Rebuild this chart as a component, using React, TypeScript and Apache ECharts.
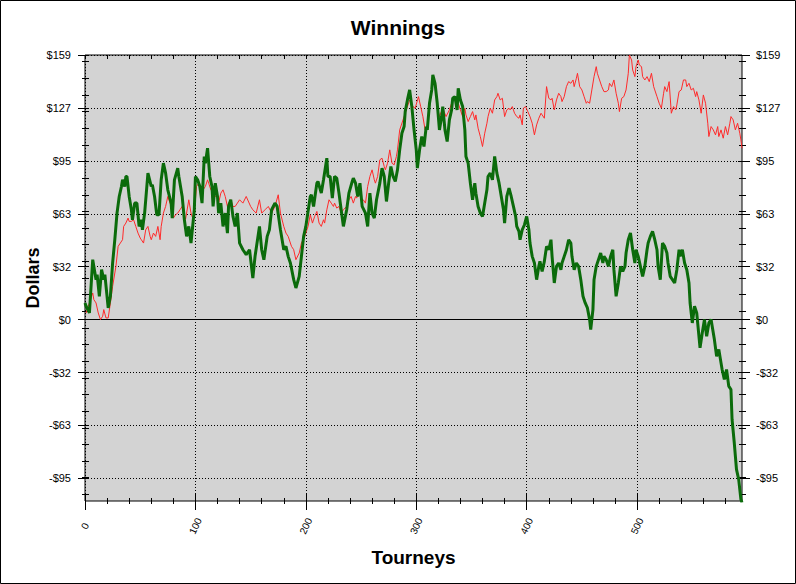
import { useEffect, useRef } from "react";
import * as echarts from "echarts";

// ---------- texts ----------
const chartTitle = "Winnings";
const xAxisName = "Tourneys";
const yAxisName = "Dollars";

// ---------- scales ----------
const xRange = [0, 595];
const xMajorStep = 100;
const xMinorStep = 20;
const yRange = [-109, 159];
const yMajorStep = 31.8;
const yMajorFirst = -95.4; // lowest labelled tick
const yMinorStep = 10;
const yMinorRange = [-105, 155];
const yTickLabels = ["-$95", "-$63", "-$32", "$0", "$32", "$63", "$95", "$127", "$159"];
const yTickLabelOffset = 3; // index of "$0"

// ---------- series values: [tourney, dollars] ----------
const redPoints: [number, number][] = [
  [1, 4], [4, 10], [7, 16], [8, 12], [10, 10], [12, 4], [14, 0], [16, 2], [17, 6], [19, 1], [21, 1], [23, 10],
  [25, 20], [27, 28], [28, 32], [30, 44], [32, 46], [34, 48], [35, 56], [37, 58], [39, 61], [40, 59], [42, 59],
  [44, 60], [46, 56], [48, 52], [50, 49], [51, 48], [53, 46], [55, 54], [57, 56], [59, 50], [60, 48], [62, 52],
  [64, 50], [66, 56], [68, 48], [69, 56], [71, 64], [73, 68], [75, 74], [77, 70], [79, 66], [80, 61], [82, 63],
  [84, 64], [86, 66], [88, 68], [91, 60], [92, 64], [94, 72], [96, 64], [98, 60], [100, 72], [101, 80], [103, 82],
  [105, 80], [107, 78], [109, 80], [111, 84], [112, 82], [114, 78], [116, 76], [118, 74], [120, 74], [121, 70],
  [123, 76], [125, 78], [127, 74], [129, 68], [130, 70], [132, 72], [134, 68], [136, 68], [138, 70], [140, 72],
  [143, 70], [146, 74], [150, 68], [152, 66], [155, 64], [158, 72], [160, 64], [163, 66], [166, 68], [169, 64],
  [172, 68], [175, 75], [177, 64], [180, 56], [182, 52], [184, 50], [187, 44], [189, 42], [191, 36], [194, 40],
  [196, 46], [199, 50], [201, 54], [202, 56], [204, 63], [206, 58], [208, 62], [210, 65], [212, 58], [214, 56],
  [216, 60], [217, 58], [219, 66], [221, 72], [223, 70], [225, 68], [226, 70], [228, 67], [230, 68], [232, 64],
  [234, 66], [237, 68], [239, 72], [241, 74], [243, 70], [245, 74], [246, 73], [248, 76], [251, 72], [252, 72],
  [254, 70], [256, 80], [258, 86], [260, 90], [262, 84], [263, 82], [265, 86], [267, 96], [269, 97], [271, 92],
  [272, 90], [274, 94], [276, 102], [278, 94], [280, 93], [282, 98], [283, 102], [285, 114], [288, 120],
  [291, 126], [294, 132], [297, 128], [299, 127], [302, 134], [304, 128], [306, 122], [308, 114], [310, 116],
  [312, 128], [314, 138], [316, 145], [318, 140], [319, 128], [321, 122], [324, 127], [327, 122], [330, 126],
  [332, 130], [334, 134], [336, 132], [338, 130], [340, 126], [342, 122], [344, 127], [345, 123], [347, 119],
  [349, 122], [351, 125], [353, 120], [354, 123], [356, 115], [358, 110], [360, 104], [362, 112], [364, 118],
  [365, 122], [367, 127], [369, 124], [371, 132], [373, 134], [374, 136], [376, 132], [378, 133], [380, 122],
  [382, 126], [384, 127], [385, 126], [387, 128], [389, 124], [391, 122], [393, 121], [394, 123], [396, 117],
  [397, 127], [399, 128], [401, 125], [403, 122], [405, 118], [407, 111], [409, 117], [411, 121], [413, 124],
  [414, 123], [416, 121], [418, 140], [420, 133], [422, 132], [423, 133], [425, 126], [427, 132], [429, 136],
  [431, 134], [432, 131], [434, 134], [436, 140], [438, 143], [440, 142], [442, 144], [443, 140], [445, 145],
  [446, 148], [448, 140], [450, 138], [452, 134], [454, 130], [455, 131], [457, 130], [459, 138], [461, 146],
  [463, 152], [464, 148], [466, 144], [468, 140], [470, 137], [472, 137], [474, 138], [475, 142], [477, 140],
  [479, 144], [481, 136], [483, 130], [484, 125], [486, 133], [488, 134], [490, 138], [492, 148], [493, 159],
  [495, 156], [496, 150], [498, 146], [499, 152], [501, 156], [502, 153], [504, 152], [505, 146], [507, 144],
  [509, 146], [511, 143], [513, 148], [515, 140], [516, 138], [518, 134], [520, 130], [522, 127], [524, 136],
  [525, 140], [527, 137], [529, 143], [531, 124], [533, 128], [535, 126], [536, 129], [538, 137], [540, 138],
  [542, 144], [544, 144], [545, 140], [547, 142], [549, 138], [551, 139], [553, 134], [554, 137], [556, 132],
  [558, 124], [560, 135], [562, 130], [564, 118], [565, 110], [567, 116], [569, 114], [571, 111], [573, 116],
  [574, 110], [576, 114], [578, 109], [580, 116], [582, 111], [584, 118], [585, 122], [587, 120], [589, 114],
  [591, 118], [593, 112], [594, 108], [595, 103],
];

const greenPoints: [number, number][] = [
  [0, 10], [1, 8], [4, 4], [7, 36], [10, 24], [11, 27], [13, 14], [15, 30], [17, 24], [18, 27], [21, 7], [23, 14],
  [25, 34], [27, 48], [29, 64], [31, 74], [33, 80], [34, 84], [36, 80], [37, 86], [38, 86], [40, 74], [42, 66],
  [43, 60], [45, 70], [47, 70], [49, 56], [51, 60], [52, 54], [54, 64], [57, 88], [60, 80], [61, 81], [63, 74],
  [65, 63], [67, 63], [69, 84], [71, 94], [73, 88], [75, 78], [78, 70], [79, 61], [81, 84], [84, 91], [85, 86],
  [88, 74], [90, 60], [92, 50], [94, 56], [96, 46], [99, 66], [100, 86], [102, 84], [104, 80], [106, 70],
  [108, 98], [109, 94], [111, 103], [113, 86], [115, 80], [116, 68], [118, 82], [120, 74], [121, 64], [123, 70],
  [125, 56], [127, 64], [129, 52], [130, 68], [132, 72], [134, 62], [136, 56], [138, 64], [140, 46], [143, 42],
  [146, 39], [149, 42], [152, 25], [154, 38], [158, 56], [160, 42], [162, 36], [165, 50], [167, 54], [169, 66],
  [172, 70], [174, 68], [177, 54], [180, 42], [182, 44], [184, 38], [186, 34], [189, 24], [191, 19], [194, 26],
  [196, 38], [198, 50], [200, 56], [204, 74], [205, 75], [207, 68], [210, 82], [211, 83], [214, 76], [216, 84],
  [219, 97], [220, 86], [222, 86], [224, 73], [226, 86], [228, 85], [230, 76], [232, 66], [234, 56], [237, 66],
  [239, 76], [242, 83], [243, 85], [245, 82], [247, 74], [249, 82], [251, 68], [254, 64], [256, 56], [258, 76],
  [260, 64], [262, 61], [264, 72], [267, 82], [269, 91], [271, 86], [273, 71], [275, 82], [277, 92], [279, 86],
  [281, 83], [283, 90], [285, 102], [287, 112], [289, 116], [290, 125], [292, 132], [294, 138], [296, 128],
  [298, 114], [300, 102], [301, 91], [303, 102], [305, 110], [307, 104], [309, 116], [310, 114], [312, 130],
  [314, 138], [315, 147], [317, 142], [319, 130], [321, 114], [323, 122], [324, 128], [326, 114], [328, 107],
  [330, 120], [332, 126], [333, 133], [335, 134], [337, 126], [338, 139], [340, 132], [342, 128], [344, 114],
  [345, 98], [347, 94], [349, 82], [351, 72], [353, 82], [354, 76], [356, 68], [358, 64], [360, 62], [362, 70],
  [364, 78], [365, 86], [367, 88], [369, 84], [371, 98], [373, 88], [375, 82], [377, 74], [379, 66], [380, 58],
  [382, 74], [384, 79], [386, 74], [388, 68], [390, 62], [391, 56], [393, 53], [394, 48], [396, 54], [398, 57],
  [400, 62], [402, 54], [403, 46], [405, 38], [407, 34], [409, 24], [411, 32], [412, 35], [414, 29], [416, 35],
  [418, 44], [420, 42], [422, 48], [423, 38], [425, 22], [427, 32], [429, 34], [431, 30], [432, 34], [434, 38],
  [436, 42], [438, 48], [440, 46], [441, 38], [443, 30], [445, 34], [447, 32], [449, 24], [451, 14], [453, 10],
  [455, 7], [457, 0], [458, -6], [460, 6], [461, 24], [463, 32], [465, 36], [467, 40], [469, 34], [470, 38],
  [472, 36], [474, 32], [476, 38], [478, 42], [479, 30], [481, 14], [483, 22], [485, 32], [487, 29], [489, 32],
  [490, 40], [492, 48], [494, 52], [496, 42], [498, 34], [499, 42], [501, 38], [503, 32], [505, 26], [507, 32],
  [509, 42], [510, 46], [512, 50], [514, 53], [516, 48], [518, 42], [519, 32], [521, 24], [523, 46], [525, 44],
  [527, 40], [528, 34], [530, 26], [532, 24], [534, 22], [536, 30], [538, 42], [539, 38], [541, 42], [543, 34],
  [545, 30], [547, 22], [548, 10], [550, -2], [552, 8], [554, 4], [557, -17], [559, -8], [561, 0], [563, -10],
  [565, -2], [567, 0], [568, -4], [570, -12], [572, -22], [574, -18], [576, -26], [577, -30], [579, -36],
  [581, -30], [583, -40], [585, -42], [586, -60], [588, -74], [590, -90], [592, -96], [594, -108], [595, -110],
];

// ---------- layout ----------
const W = 796;
const H = 584;
const PLOT = { left: 85, top: 55, width: 657, height: 446 };
const FONT = '"Liberation Sans", Arial, Helvetica, sans-serif';

export default function App() {
  const ref = useRef<HTMLDivElement>(null);

  useEffect(() => {
    if (!ref.current) return;
    const chart = echarts.init(ref.current, undefined, { renderer: "svg" });

    const kx = PLOT.width / (xRange[1] - xRange[0]);
    const ky = PLOT.height / (yRange[1] - yRange[0]);
    const lastMajorX = Math.floor(xRange[1] / xMajorStep) * xMajorStep;
    const lastMinorX = Math.floor(xRange[1] / xMinorStep) * xMinorStep;
    const nMajorY = Math.floor((yRange[1] - yMajorFirst) / yMajorStep + 1e-6);
    const yMajorLast = Math.round((yMajorFirst + nMajorY * yMajorStep) * 10) / 10;

    const baseGrid = { containLabel: false, outerBoundsMode: "none" };
    const grid = [
      {
        ...baseGrid,
        left: PLOT.left, top: PLOT.top, width: PLOT.width, height: PLOT.height,
        show: true, backgroundColor: "#d3d3d3", borderColor: "#000", borderWidth: 1,
      },
      { ...baseGrid, left: PLOT.left, top: PLOT.top, width: (lastMajorX - xRange[0]) * kx, height: PLOT.height },
      { ...baseGrid, left: PLOT.left, top: PLOT.top, width: (lastMinorX - xRange[0]) * kx, height: PLOT.height },
      {
        ...baseGrid, left: PLOT.left, width: PLOT.width,
        top: PLOT.top + (yRange[1] - yMajorLast) * ky,
        height: (yMajorLast - yMajorFirst) * ky,
      },
      {
        ...baseGrid, left: PLOT.left, width: PLOT.width,
        top: PLOT.top + (yRange[1] - yMinorRange[1]) * ky,
        height: (yMinorRange[1] - yMinorRange[0]) * ky,
      },
    ];

    const off = { show: false };
    const tickStyle = { color: "#000", width: 1 };
    const dotted = { show: true, lineStyle: { color: "#000", width: 1, type: [1, 2] as number[] } };
    const dummy = (gridIndex: number) => ({ type: "value", gridIndex, show: false, min: 0, max: 1 });

    const yLabel = (v: number) => {
      const i = Math.round(v / yMajorStep);
      if (Math.abs(v - i * yMajorStep) > 0.5) return "";
      return yTickLabels[i + yTickLabelOffset] ?? "";
    };

    const xAxis = [
      {
        type: "value", gridIndex: 0, min: xRange[0], max: xRange[1], position: "bottom",
        axisLine: { show: false, onZero: false }, axisTick: off, axisLabel: off, splitLine: off,
        name: xAxisName, nameLocation: "middle", nameGap: 47,
        nameTextStyle: { color: "#000", fontSize: 19, fontWeight: "bold", fontFamily: FONT },
      },
      {
        type: "value", gridIndex: 1, min: xRange[0], max: lastMajorX, interval: xMajorStep, position: "bottom",
        offset: -7,
        axisLine: { show: false, onZero: false },
        axisTick: { show: true, length: 16, lineStyle: tickStyle },
        axisLabel: {
          show: true, rotate: 65, align: "center", verticalAlign: "middle", margin: 32,
          color: "#000", fontSize: 10, fontFamily: FONT,
          formatter: (v: number) => String(Math.round(v)),
        },
        splitLine: dotted,
      },
      {
        type: "value", gridIndex: 2, min: xRange[0], max: lastMinorX, interval: xMinorStep, position: "bottom",
        offset: -3,
        axisLine: { show: false, onZero: false },
        axisTick: { show: true, length: 6, lineStyle: tickStyle },
        axisLabel: off, splitLine: off,
      },
      {
        type: "value", gridIndex: 2, min: xRange[0], max: lastMinorX, interval: xMinorStep, position: "top",
        axisLine: { show: false, onZero: false },
        axisTick: { show: true, inside: true, length: 4, lineStyle: tickStyle },
        axisLabel: off, splitLine: off,
      },
      dummy(3),
      dummy(4),
    ];

    const yAxis = [
      {
        type: "value", gridIndex: 0, min: yRange[0], max: yRange[1], position: "left",
        axisLine: { show: false, onZero: false }, axisTick: off, axisLabel: off, splitLine: off,
        name: yAxisName, nameLocation: "middle", nameGap: 43, nameRotate: 90,
        nameTextStyle: { color: "#000", fontSize: 18, fontWeight: "bold", fontFamily: FONT },
      },
      dummy(1),
      dummy(2),
      {
        type: "value", gridIndex: 3, min: yMajorFirst, max: yMajorLast, interval: yMajorStep, position: "left",
        offset: -3,
        axisLine: { show: false, onZero: false },
        axisTick: { show: true, length: 10, lineStyle: tickStyle },
        axisLabel: { show: true, margin: 17, color: "#000", fontSize: 11, fontFamily: FONT, formatter: yLabel },
        splitLine: dotted,
      },
      {
        type: "value", gridIndex: 3, min: yMajorFirst, max: yMajorLast, interval: yMajorStep, position: "right",
        offset: -4,
        axisLine: { show: false, onZero: false },
        axisTick: { show: true, length: 12, lineStyle: tickStyle },
        axisLabel: { show: true, margin: 18, color: "#000", fontSize: 11, fontFamily: FONT, formatter: yLabel },
        splitLine: off,
      },
      {
        type: "value", gridIndex: 4, min: yMinorRange[0], max: yMinorRange[1], interval: yMinorStep,
        position: "left", offset: -4,
        axisLine: { show: false, onZero: false },
        axisTick: { show: true, length: 7, lineStyle: tickStyle },
        axisLabel: off, splitLine: off,
      },
      {
        type: "value", gridIndex: 4, min: yMinorRange[0], max: yMinorRange[1], interval: yMinorStep,
        position: "right", offset: -3,
        axisLine: { show: false, onZero: false },
        axisTick: { show: true, length: 7, lineStyle: tickStyle },
        axisLabel: off, splitLine: off,
      },
    ];

    const option: any = {
      animation: false,
      backgroundColor: "#fff",
      grid,
      xAxis,
      yAxis,
      graphic: [
        {
          type: "rect", silent: true, z: 100,
          shape: { x: 0.5, y: 0.5, width: W - 1, height: H - 1 },
          style: { fill: "none", stroke: "#000", lineWidth: 1 },
        },
        {
          type: "text", x: W / 2, y: 27, silent: true,
          style: {
            text: chartTitle, fill: "#000", font: `bold 21px ${FONT}`,
            textAlign: "center", textVerticalAlign: "middle",
          },
        },
      ],
      series: [
        {
          name: "Red",
          type: "line", xAxisIndex: 0, yAxisIndex: 0,
          data: redPoints, showSymbol: false, symbol: "none", clip: true,
          lineStyle: { color: "#ff2a2a", width: 1 },
          itemStyle: { color: "#ff2a2a" },
          z: 3,
        },
        {
          name: "Green",
          type: "line", xAxisIndex: 0, yAxisIndex: 0,
          data: greenPoints, showSymbol: false, symbol: "none", clip: true,
          lineStyle: { color: "#0b6b0b", width: 3 },
          itemStyle: { color: "#0b6b0b" },
          z: 4,
          markLine: {
            silent: true, symbol: ["none", "none"], label: { show: false },
            lineStyle: { color: "#000", width: 1, type: "solid" },
            data: [{ yAxis: 0 }],
            z: 2,
          },
        },
      ],
    };

    chart.setOption(option);
    return () => chart.dispose();
  }, []);

  return (
    <div
      ref={ref}
      style={{ position: "absolute", left: 0, top: 0, width: W, height: H, background: "#fff" }}
    />
  );
}
